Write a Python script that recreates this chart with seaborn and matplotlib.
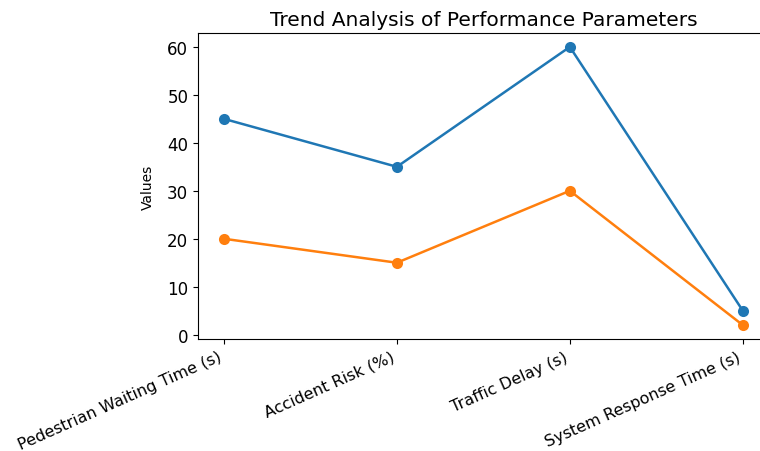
import matplotlib
matplotlib.use("Agg")
import matplotlib.pyplot as plt
import seaborn as sns
import pandas as pd

categories = ["Pedestrian Waiting Time (s)", "Accident Risk (%)", "Traffic Delay (s)", "System Response Time (s)"]
series_a = [45, 35, 60, 5]
series_b = [20, 15, 30, 2]
series_names = ["Traditional System", "Proposed System"]

df = pd.DataFrame({
    "Parameter": categories * 2,
    "Value": series_a + series_b,
    "System": [series_names[0]] * len(categories) + [series_names[1]] * len(categories),
})

fig = plt.figure(figsize=(7.6, 4.52), dpi=100)
ax = fig.add_axes([0.2605, 0.2478, 0.751, 0.677])
sns.lineplot(data=df, x="Parameter", y="Value", hue="System", marker="o",
             palette=["#1f77b4", "#ff7f0e"], markersize=8, linewidth=1.8,
             markeredgewidth=0, sort=False, legend=False, ax=ax)
ax.spines["right"].set_visible(False)
ax.set_title("Trend Analysis of Performance Parameters", fontsize=14.5)
ax.set_xlabel("")
ax.set_ylabel("Values", fontsize=10, labelpad=9)
ax.tick_params(axis="y", labelsize=12)
ax.tick_params(axis="x", labelsize=11.5)
plt.setp(ax.get_xticklabels(), rotation=24, ha="right", rotation_mode="default")
fig.savefig("out.png", dpi=100)
